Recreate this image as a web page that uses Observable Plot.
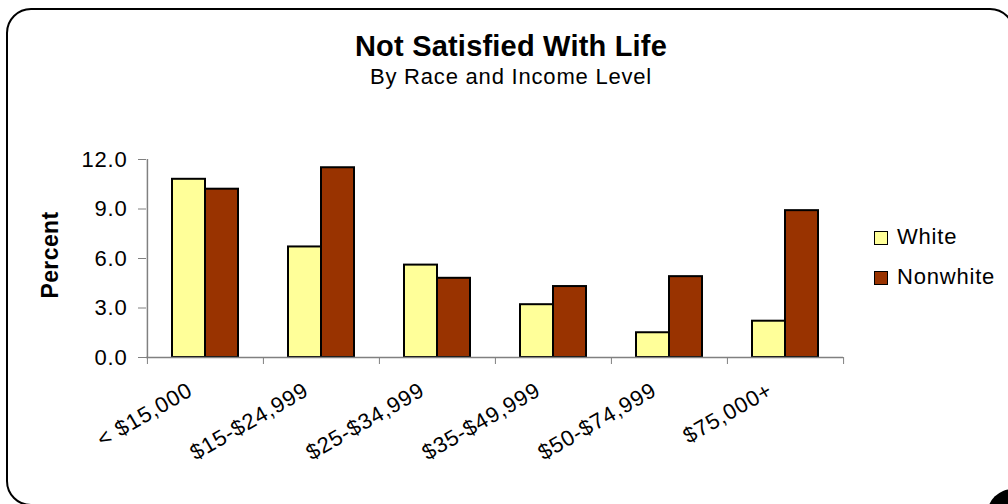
<!DOCTYPE html>
<html>
<head>
<meta charset="utf-8">
<script src="https://cdn.jsdelivr.net/npm/d3@7"></script>
<script src="https://cdn.jsdelivr.net/npm/@observablehq/plot@0.6"></script>
<style>
html, body { margin: 0; padding: 0; background: #fff; }
#wrap { position: relative; width: 1008px; height: 504px; overflow: hidden; font-family: "Liberation Sans", Arial, sans-serif; color: #000; }
#border { position: absolute; left: 6px; top: 8px; width: 1009px; height: 498px; box-sizing: border-box; border: 2px solid #000; border-radius: 25px; }
#shadow { position: absolute; left: 987px; top: 489px; width: 52px; height: 52px; border-radius: 26px; background: #000; }
#chart { position: absolute; left: 0; top: 0; }
.t { position: absolute; white-space: nowrap; line-height: 1; }
#title { left: 511px; top: 32px; transform: translateX(-50%); font-size: 29px; font-weight: bold; letter-spacing: 0.2px; }
#subtitle { left: 511px; top: 66px; transform: translateX(-50%); font-size: 22px; letter-spacing: 0.8px; }
#ylabel { left: 50px; top: 255px; transform: translate(-50%, -50%) rotate(-90deg); font-size: 23px; font-weight: bold; letter-spacing: 0.4px; }
.sw { position: absolute; width: 14px; height: 14px; box-sizing: border-box; border: 1.5px solid #000; }
.lt { position: absolute; font-size: 22px; letter-spacing: 0.8px; line-height: 1; white-space: nowrap; }
</style>
</head>
<body>
<div id="wrap">
  <div id="border"></div>
  <div id="shadow"></div>
  <div id="chart"></div>
  <div id="title" class="t">Not Satisfied With Life</div>
  <div id="subtitle" class="t">By Race and Income Level</div>
  <div id="ylabel" class="t">Percent</div>
  <div id="legend"></div>
</div>
<script>
// ---- data ----
const categories = ["< $15,000", "$15-$24,999", "$25-$34,999", "$35-$49,999", "$50-$74,999", "$75,000+"];
const series = ["White", "Nonwhite"];
const whiteValues = [10.8, 6.7, 5.6, 3.2, 1.5, 2.2];
const nonwhiteValues = [10.2, 11.5, 4.8, 4.3, 4.9, 8.9];
const yTicks = [0, 3, 6, 9, 12];
const seriesColors = ["#FFFF99", "#993300"];

// ---- layout ----
const W = 1008, H = 504;
const ml = 146, mr = 165, mt = 159, mb = 147;
const half = (W - ml - mr) / categories.length / 2;
const axisGray = "#808080";

const whiteData = categories.map((c, i) => ({category: c, value: whiteValues[i]}));
const nonwhiteData = categories.map((c, i) => ({category: c, value: nonwhiteValues[i]}));

const chart = Plot.plot({
  width: W,
  height: H,
  marginLeft: ml,
  marginRight: mr,
  marginTop: mt,
  marginBottom: mb,
  style: {
    background: "transparent",
    fontFamily: "'Liberation Sans', Arial, sans-serif",
    fontSize: "22px",
    letterSpacing: "0.8px",
    color: "#000",
    overflow: "visible"
  },
  x: {type: "band", domain: categories, padding: 0},
  y: {domain: [0, 12]},
  marks: [
    Plot.barY(whiteData, {x: "category", y: "value", fill: seriesColors[0], stroke: "#000", strokeWidth: 2, insetLeft: 25, insetRight: 58}),
    Plot.barY(nonwhiteData, {x: "category", y: "value", fill: seriesColors[1], stroke: "#000", strokeWidth: 2, insetLeft: 58, insetRight: 25}),
    Plot.ruleY([0], {stroke: axisGray, strokeWidth: 1.5}),
    Plot.ruleX([categories[0]], {x: d => d, dx: -half, y1: 0, y2: 12, stroke: axisGray, strokeWidth: 1.5}),
    Plot.axisY({ticks: yTicks, tickFormat: d3.format(".1f"), tickSize: 8, tickPadding: 11, stroke: axisGray, fill: "#000", label: null}),
    Plot.axisX({tickSize: 7, dx: -half, tickFormat: () => "", stroke: axisGray, label: null}),
    Plot.axisX([categories[categories.length - 1]], {tickSize: 7, dx: half, tickFormat: () => "", stroke: axisGray, label: null}),
    Plot.axisX({tickSize: 0, tickRotate: -30, tickPadding: 31, dx: -15, fill: "#000", label: null})
  ]
});
document.getElementById("chart").appendChild(chart);

// ---- legend ----
const legend = document.getElementById("legend");
series.forEach((s, i) => {
  const sw = document.createElement("div");
  sw.className = "sw";
  sw.style.left = "874px";
  sw.style.top = (231 + i * 40) + "px";
  sw.style.background = seriesColors[i];
  legend.appendChild(sw);
  const t = document.createElement("div");
  t.className = "lt";
  t.textContent = s;
  t.style.left = "897px";
  t.style.top = (226 + i * 40) + "px";
  legend.appendChild(t);
});
</script>
</body>
</html>
